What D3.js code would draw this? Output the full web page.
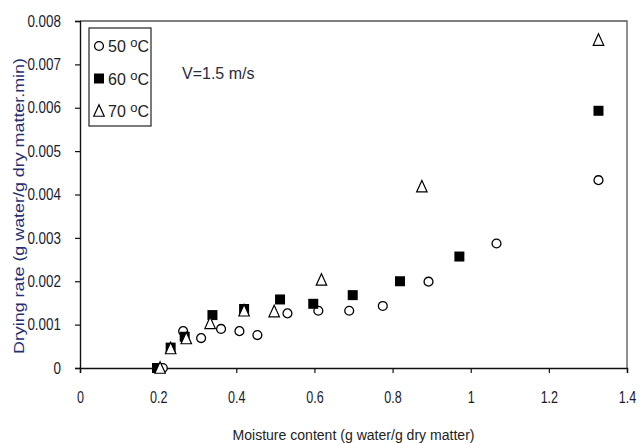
<!DOCTYPE html>
<html>
<head>
    <meta charset="utf-8" />
    <title>Drying rate vs moisture content</title>
    <style>
        body {
            margin: 0;
            background-color: white;
        }

        text {
          font-family: "Liberation Sans", Arial, sans-serif;
        }
    </style>
    <script src="https://cdnjs.cloudflare.com/ajax/libs/d3/7.8.5/d3.min.js"></script>
</head>
<body>
    <script>
        // series: [moisture content, drying rate]
        var temps = ['50', '60', '70'];

        var moist50 = [0.212, 0.264, 0.31, 0.361, 0.408, 0.454, 0.531, 0.61, 0.689, 0.775, 0.892, 1.066, 1.327];
        var rate50  = [0, 0.00085, 0.00069, 0.0009, 0.00085, 0.00076, 0.00126, 0.00132, 0.00132, 0.00143, 0.00199, 0.00287, 0.00433];

        var moist60 = [0.197, 0.232, 0.268, 0.339, 0.42, 0.512, 0.597, 0.698, 0.819, 0.971, 1.327];
        var rate60  = [0, 0.00047, 0.00072, 0.00122, 0.00136, 0.00158, 0.00148, 0.00168, 0.002, 0.00257, 0.00593];

        var moist70 = [0.205, 0.232, 0.272, 0.333, 0.42, 0.497, 0.618, 0.875, 1.327];
        var rate70  = [0, 0.00045, 0.00068, 0.00103, 0.00132, 0.0013, 0.00203, 0.00418, 0.00756];

        var xTicks = [0, 0.2, 0.4, 0.6, 0.8, 1, 1.2, 1.4];
        var yTicks = [0, 0.001, 0.002, 0.003, 0.004, 0.005, 0.006, 0.007, 0.008];

        var width = 640,
            height = 443;

        var plotL = 80, plotR = 627, plotT = 21, plotB = 368;

        var svg = d3.select("body").append("svg")
                    .attr("width", width)
                    .attr("height", height);

        var x = d3.scaleLinear().domain([0, 1.4]).range([plotL, plotR]);
        var y = d3.scaleLinear().domain([0, 0.008]).range([plotB, plotT]);

        // frame top + right
        svg.append("path")
           .attr("d", "M" + plotL + "," + plotT + "H" + plotR + "V" + plotB)
           .attr("fill", "none")
           .attr("stroke", "#555")
           .attr("stroke-width", 1.3);

        // axes
        var xAxis = svg.append("g")
            .attr("transform", "translate(0," + plotB + ")")
            .call(d3.axisBottom(x).tickValues(xTicks).tickSize(5).tickPadding(18)
                  .tickFormat(d => d));

        var yAxis = svg.append("g")
            .attr("transform", "translate(" + plotL + ",0)")
            .call(d3.axisLeft(y).tickValues(yTicks).tickSize(5).tickPadding(14)
                  .tickFormat(d => d === 0 ? "0" : d3.format(".3f")(d)));

        [xAxis, yAxis].forEach(function(g) {
            g.select(".domain").attr("stroke", "#111").attr("stroke-width", 1.4);
            g.selectAll(".tick line").attr("stroke", "#111").attr("stroke-width", 1.2);
            g.selectAll(".tick text")
             .attr("fill", "#1a1a2e")
             .style("font-size", "16px");
        });

        // narrow, tall tick labels like the original
        xAxis.selectAll(".tick text")
             .style("font-size", "17px")
             .attr("transform", "scale(0.74,1)");
        yAxis.selectAll(".tick text")
             .attr("transform", function() {
                 var tx = +d3.select(this).attr("x");
                 return "translate(" + tx + ",0) scale(0.84,1) translate(" + (-tx) + ",0)";
             });

        // axis titles
        svg.append("text")
           .attr("x", (plotL + plotR) / 2)
           .attr("y", 440)
           .attr("text-anchor", "middle")
           .attr("fill", "#222")
           .style("font-size", "15.5px")
           .attr("textLength", 242)
           .attr("lengthAdjust", "spacingAndGlyphs")
           .text("Moisture content (g water/g dry matter)");

        svg.append("text")
           .attr("transform", "translate(24,206) rotate(-90)")
           .attr("text-anchor", "middle")
           .attr("fill", "#1f2f72")
           .style("font-size", "14.5px")
           .attr("textLength", 296)
           .attr("lengthAdjust", "spacingAndGlyphs")
           .text("Drying rate (g water/g dry matter.min)");

        svg.append("text")
           .attr("x", 182)
           .attr("y", 79)
           .attr("fill", "#2a2a40")
           .style("font-size", "16px")
           .text("V=1.5 m/s");

        // markers
        var circle = d3.symbol().type(d3.symbolCircle).size(62);
        var square = d3.symbol().type(d3.symbolSquare).size(100);
        var triangle = function(s) {
            return "M0," + (-s * 0.6) + "L" + (s * 0.5) + "," + (s * 0.5) + "L" + (-s * 0.5) + "," + (s * 0.5) + "Z";
        };

        function pts(mx, ry) {
            return mx.map((m, i) => ({ m: m, r: ry[i] }));
        }

        var series = [
            { data: pts(moist50, rate50), path: circle(), fill: "white", stroke: "#000", sw: 1.3 },
            { data: pts(moist60, rate60), path: square(), fill: "#000", stroke: "none", sw: 0 },
            { data: pts(moist70, rate70), path: triangle(10.5), fill: "white", stroke: "#000", sw: 1.2 }
        ];

        series.forEach(function(s) {
            svg.append("g").selectAll("path")
               .data(s.data)
               .enter().append("path")
               .attr("d", s.path)
               .attr("transform", d => "translate(" + x(d.m) + "," + y(d.r) + ")")
               .attr("fill", s.fill)
               .attr("stroke", s.stroke)
               .attr("stroke-width", s.sw);
        });

        // legend
        var legend = svg.append("g").attr("transform", "translate(89,28)");
        legend.append("rect")
              .attr("width", 62).attr("height", 98)
              .attr("fill", "white")
              .attr("stroke", "#333")
              .attr("stroke-width", 1.3);

        var items = legend.selectAll("g.item")
              .data(series)
              .enter().append("g")
              .attr("class", "item")
              .attr("transform", (d, i) => "translate(10," + (18 + i * 32.5) + ")");

        items.append("path")
             .attr("d", d => d.path)
             .attr("fill", d => d.fill)
             .attr("stroke", d => d.stroke)
             .attr("stroke-width", d => d.sw);

        var label = items.append("text")
             .attr("x", 9)
             .attr("y", 6)
             .attr("fill", "#222")
             .style("font-size", "16px");
        label.append("tspan").text((d, i) => temps[i] + " ");
        label.append("tspan").attr("dy", -5).style("font-size", "13px").text("o");
        label.append("tspan").attr("dy", 5).text("C");
    </script>
</body>
</html>
